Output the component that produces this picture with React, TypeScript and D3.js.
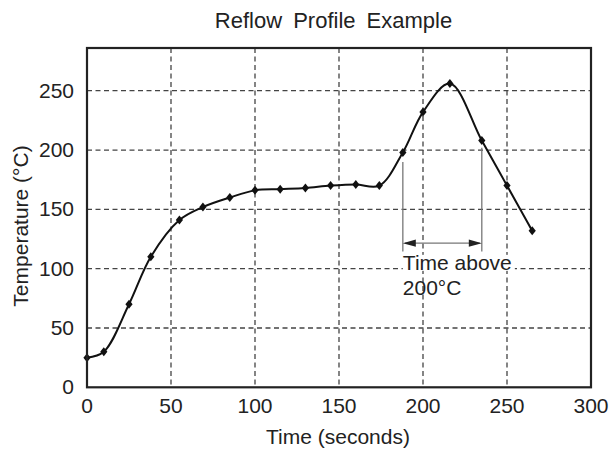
import React from "react";
import * as d3 from "d3";

const timeSec = [0, 10, 25, 38, 55, 69, 85, 100, 115, 130, 145, 160, 174, 188, 200, 216, 235, 250, 265];
const tempC = [25, 30, 70, 110, 141, 152, 160, 166, 167, 168, 170, 171, 170, 198, 232, 256, 208, 170, 132];
const xTicks = [0, 50, 100, 150, 200, 250, 300];
const yTicks = [0, 50, 100, 150, 200, 250];
const xGrid = [50, 100, 150, 200, 250];
const yGrid = [50, 100, 150, 200, 250];
const spanStart = 188;
const spanEnd = 235;
const title = "Reflow Profile Example";
const xLabel = "Time (seconds)";
const yLabel = "Temperature (°C)";
const noteLines = ["Time above", "200°C"];

const W = 611;
const H = 455;
const L = 87, R = 591, T = 48, B = 387.3;
const FONT = "'Liberation Sans', Arial, Helvetica, sans-serif";

const diamond = {
  draw(ctx: any, size: number) {
    const h = Math.sqrt(size) * 0.75;
    const w = h * 0.8;
    ctx.moveTo(0, -h);
    ctx.lineTo(w, 0);
    ctx.lineTo(0, h);
    ctx.lineTo(-w, 0);
    ctx.closePath();
  },
};

export default function App() {
  const x = d3.scaleLinear().domain([0, 300]).range([L, R]);
  const y = d3.scaleLinear().domain([0, 286]).range([B, T]);
  const pts: [number, number][] = timeSec.map((t, i) => [t, tempC[i]]);
  const line = d3
    .line<[number, number]>()
    .x((d) => x(d[0]))
    .y((d) => y(d[1]))
    .curve(d3.curveCatmullRom.alpha(0.5));
  const sym = d3.symbol().type(diamond as any).size(36)();

  const ax1 = x(spanStart), ax2 = x(spanEnd);
  const ay = y(121.5);
  const aBottom = y(114.5);
  const aTop1 = y(190);
  const aTop2 = y(202);
  const ah = 13, aw = 3.6;

  return (
    <div style={{ position: "absolute", left: 0, top: 0 }}>
      <svg width={W} height={H} style={{ display: "block", background: "#fff" }}>
        <rect x={0} y={0} width={W} height={H} fill="#fff" />
        {/* grid */}
        <g stroke="#444" strokeWidth={1.3} strokeDasharray="5,3.5">
          {xGrid.map((v) => (
            <line key={"gx" + v} x1={x(v)} x2={x(v)} y1={T} y2={B} />
          ))}
          {yGrid.map((v) => (
            <line key={"gy" + v} x1={L} x2={R} y1={y(v)} y2={y(v)} />
          ))}
        </g>
        {/* annotation */}
        <g stroke="#777" strokeWidth={1.3}>
          <line x1={ax1} x2={ax1} y1={aTop1} y2={aBottom} />
          <line x1={ax2} x2={ax2} y1={aTop2} y2={aBottom} />
          <line x1={ax1 + 2} x2={ax2 - 2} y1={ay} y2={ay} />
        </g>
        <path d={`M${ax1},${ay}L${ax1 + ah},${ay - aw}L${ax1 + ah},${ay + aw}Z`} fill="#222" />
        <path d={`M${ax2},${ay}L${ax2 - ah},${ay - aw}L${ax2 - ah},${ay + aw}Z`} fill="#222" />
        <rect x={ax1} y={y(99) - 15} width={112} height={16} fill="#fff" />
        <text x={ax1} y={y(99)} fontFamily={FONT} fontSize={21} fill="#222">
          {noteLines[0]}
        </text>
        <text x={ax1} y={y(78)} fontFamily={FONT} fontSize={21} fill="#222">
          {noteLines[1]}
        </text>
        {/* curve */}
        <path d={line(pts) || ""} fill="none" stroke="#111" strokeWidth={2} />
        {pts.map((d, i) => (
          <path key={"m" + i} d={sym || ""} transform={`translate(${x(d[0])},${y(d[1])})`} fill="#111" />
        ))}
        {/* frame */}
        <rect x={L} y={T} width={R - L} height={B - T} fill="none" stroke="#222" strokeWidth={2.2} />
        {/* tick labels */}
        <g fontFamily={FONT} fontSize={21} fill="#222">
          {xTicks.map((v) => (
            <text key={"tx" + v} x={x(v)} y={413} textAnchor="middle">
              {v}
            </text>
          ))}
          {yTicks.map((v) => (
            <text key={"ty" + v} x={74} y={y(v) + 7} textAnchor="end">
              {v}
            </text>
          ))}
        </g>
        <text x={338} y={444} textAnchor="middle" fontFamily={FONT} fontSize={21} fill="#222">
          {xLabel}
        </text>
        <text
          transform={`translate(28,226) rotate(-90)`}
          textAnchor="middle"
          fontFamily={FONT}
          fontSize={21}
          fill="#222"
        >
          {yLabel}
        </text>
        <text x={333.5} y={28} textAnchor="middle" fontFamily={FONT} fontSize={22} wordSpacing={5} fill="#222">
          {title}
        </text>
      </svg>
    </div>
  );
}
